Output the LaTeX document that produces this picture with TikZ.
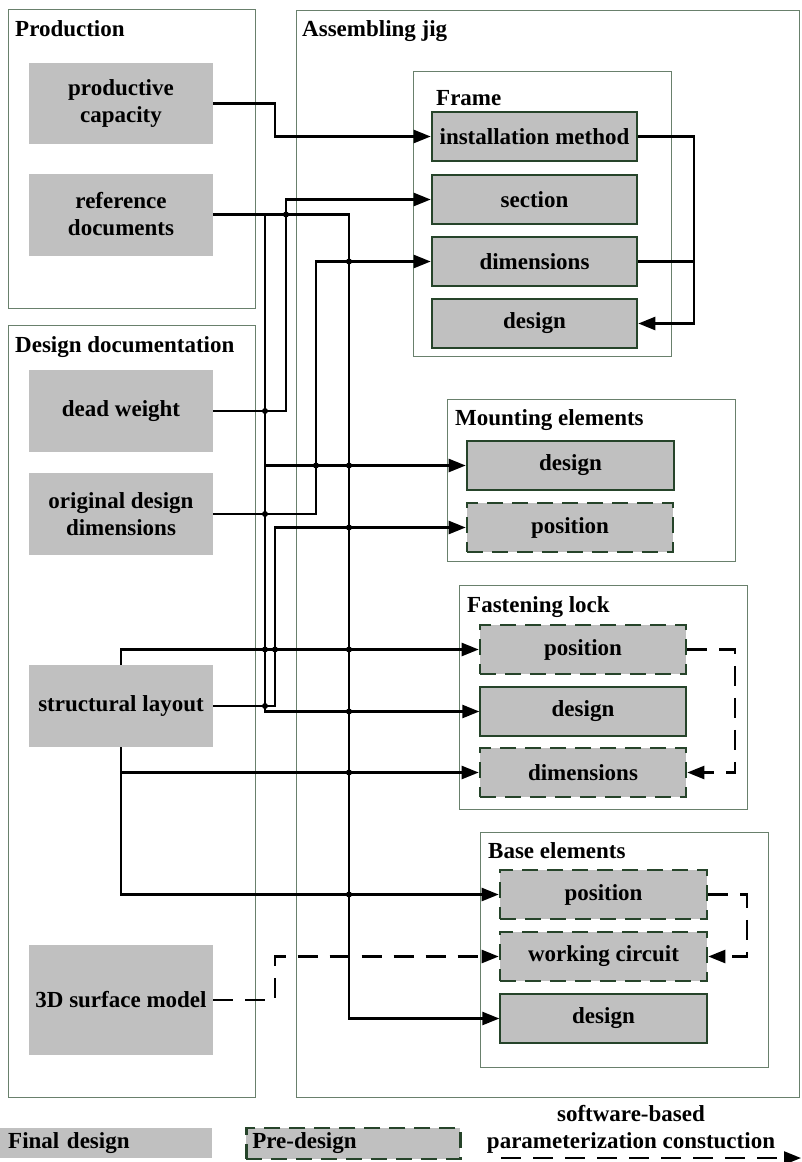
\documentclass[tikz,border=0pt]{standalone}
\usepackage{fontspec}
\setmainfont{Liberation Serif}
\usetikzlibrary{arrows.meta,calc}
\definecolor{boxgray}{RGB}{192,192,192}
\definecolor{darkgreen}{RGB}{38,68,42}
\definecolor{framegreen}{RGB}{105,128,108}
\begin{document}
\begin{tikzpicture}[x=1pt,y=-1pt,
  every node/.style={font=\fontsize{23}{27}\selectfont\bfseries, inner sep=0pt},
  title/.style={anchor=base west},
  container/.style={draw=framegreen, line width=1pt},
  leftbox/.style={fill=boxgray, minimum width=184pt, align=center},
  finalbox/.style={fill=boxgray, draw=darkgreen, line width=2.6pt, minimum height=49pt},
  thinbox/.style={fill=boxgray, draw=darkgreen, line width=1.3pt, minimum height=49pt},
  prebox/.style={fill=boxgray, draw=darkgreen, line width=2.6pt, dash pattern=on 16pt off 9pt, minimum height=49pt},
  wire/.style={line width=2.4pt},
  tip/.style={-{Triangle[length=17pt,width=13pt]}},
  dwire/.style={wire, dash pattern=on 20pt off 12pt},
  jdot/.style={fill=black},
]
\useasboundingbox (0,0) rectangle (801,1162);
\fill[white] (0,0) rectangle (801,1162);

% containers
\draw[container] (8,9) rectangle (255,308);
\draw[container] (8,325) rectangle (255,1097);
\draw[container] (296,10) rectangle (799,1097);
\draw[container] (413,71) rectangle (671,356);
\draw[container] (447,399) rectangle (735,561);
\draw[container] (459,585) rectangle (747,809);
\draw[container] (480,832) rectangle (768,1067);

% titles
\node[title] (tprod) at (15,36) {Production};
\node[title] (tdoc) at (15,352) {Design documentation};
\node[title] (tjig) at (302,36) {Assembling jig};
\node[title] (tframe) at (436,105) {Frame};
\node[title] (tmount) at (455,425) {Mounting elements};
\node[title] (tfast) at (467,612) {Fastening lock};
\node[title] (tbase) at (488,858) {Base elements};

% left boxes
\node[leftbox, minimum height=81pt] (pc) at (121,103.5) {productive\\capacity};
\node[leftbox, minimum height=82pt] (rd) at (121,214.5) {reference\\documents};
\node[leftbox, minimum height=82pt] (dw) at (121,411) {dead weight};
\node[leftbox, minimum height=82pt] (odd) at (121,514) {original design\\dimensions};
\node[leftbox, minimum height=82pt] (sl) at (121,706) {structural layout};
\node[leftbox, minimum height=110pt] (sm) at (121,1000) {3D surface model};

% frame
\node[finalbox, minimum width=205pt] (im) at (534.5,136.5) {installation method};
\node[finalbox, minimum width=205pt] (sec) at (534.5,199.5) {section};
\node[finalbox, minimum width=205pt] (dim) at (534.5,261.5) {dimensions};
\node[finalbox, minimum width=205pt] (des) at (534.5,323.5) {design};

% mounting elements
\node[finalbox, minimum width=207pt] (md) at (570.5,465.5) {design};
\node[prebox, minimum width=206pt] (mp) at (570,527.5) {position};

% fastening lock
\node[prebox, minimum width=206pt] (fp) at (583,649.5) {position};
\node[thinbox, minimum width=206pt] (fd) at (583,711.5) {design};
\node[prebox, minimum width=206pt] (fdim) at (583,772.5) {dimensions};

% base elements
\node[prebox, minimum width=207pt] (bp) at (603.5,894.5) {position};
\node[prebox, minimum width=207pt] (bw) at (603.5,956.5) {working circuit};
\node[thinbox, minimum width=207pt] (bd) at (603.5,1018.5) {design};

% trunk coordinates
\coordinate (tA) at (265,0);
\coordinate (tB) at (275,0);
\coordinate (tC) at (286,0);
\coordinate (tD) at (316,0);
\coordinate (tE) at (349,0);
\coordinate (tR) at (694,0);
\coordinate (tS) at (735,0);
\coordinate (tT) at (747,0);

% connectors
\draw[wire, tip] (pc.east) -- (pc.east -| tB) -- (im.west -| tB) -- (im.west);
\draw[wire, tip] (rd.east) -- (rd.east -| tE) -- (bd.west -| tE) -- (bd.west);
\draw[wire, tip] (rd.east -| tA) -- (fd.west -| tA) -- (fd.west);
\draw[wire, tip] (md.west -| tA) -- (md.west);
\draw[wire, tip] (dw.east) -- (dw.east -| tC) -- (sec.west -| tC) -- (sec.west);
\draw[wire, tip] (odd.east) -- (odd.east -| tD) -- (dim.west -| tD) -- (dim.west);
\draw[wire, tip] (sl.east) -- (sl.east -| tB) -- (mp.west -| tB) -- (mp.west);
\draw[wire, tip] (sl.north) -- (fp.west -| sl.north) -- (fp.west);
\draw[wire, tip] (sl.south) -- (fdim.west -| sl.south) -- (fdim.west);
\draw[wire, tip] (fdim.west -| sl.south) -- (bp.west -| sl.south) -- (bp.west);
\draw[dwire, tip] (sm.east) -- (sm.east -| tB) -- (bw.west -| tB) -- (bw.west);
\draw[wire, tip] (im.east) -- (im.east -| tR) -- (des.east -| tR) -- (des.east);
\draw[wire] (dim.east) -- (dim.east -| tR);
\draw[dwire, tip] (fp.east) -- (fp.east -| tS) -- (fdim.east -| tS) -- (fdim.east);
\draw[dwire, tip] (bp.east) -- (bp.east -| tT) -- (bw.east -| tT) -- (bw.east);

% crossing dots
\foreach \p in {(tC |- rd.east), (tE |- dim.west), (tA |- dw.east), (tD |- md.west),
  (tE |- md.west), (tA |- odd.east), (tE |- mp.west), (tA |- fp.west), (tB |- fp.west),
  (tE |- fp.west), (tA |- sl.east), (tE |- fd.west), (tE |- fdim.west), (tE |- bp.west)}
  \fill[jdot] \p circle (3pt);

% legend
\node[fill=boxgray, anchor=west, minimum height=30pt, text width=196pt, inner xsep=8pt, align=left] (lf) at (0,1143) {Final design};
\node[fill=boxgray, draw=darkgreen, line width=2.6pt, dash pattern=on 16pt off 9pt, anchor=west, minimum height=31pt, text width=202pt, inner xsep=6pt, align=left] (lp) at (245,1143.5) {Pre-design};
\node[align=center] (lt) at (631,1129.5) {software-based\\parameterization constuction};
\coordinate (la) at (501,1158);
\coordinate (lb) at (801,1158);
\draw[dwire, tip] (la) -- (lb);
\end{tikzpicture}
\end{document}
